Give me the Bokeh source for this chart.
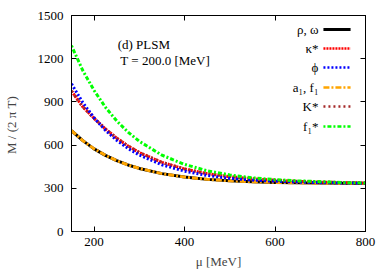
from bokeh.plotting import figure
from bokeh.models import FixedTicker, Label, LinearAxis
from bokeh.embed import file_html
from bokeh.resources import INLINE

mu = [150, 175, 200, 225, 250, 275, 300, 350, 400, 450, 500, 550, 600, 650, 700, 750, 800]
rho_omega = [700, 631, 574, 529, 492, 462, 438, 402, 378, 362, 352, 345, 341, 338, 336, 335, 334]
kappa_star = [975, 866, 786, 712, 648, 594, 548, 480, 434, 402, 381, 366, 356, 348, 343, 340, 337]
phi = [1025, 895, 789, 703, 633, 577, 531, 463, 419, 389, 369, 357, 349, 343, 339, 337, 335]
a1_f1 = [700, 631, 574, 529, 492, 462, 438, 402, 378, 362, 352, 345, 341, 338, 336, 335, 334]
K_star = [975, 866, 786, 712, 648, 594, 548, 480, 434, 402, 381, 366, 356, 348, 343, 340, 337]
f1_star = [1290, 1118, 979, 863, 768, 690, 626, 530, 466, 422, 393, 373, 360, 352, 346, 340, 337]

x_ticks = [200, 400, 600, 800]
y_ticks = [0, 300, 600, 900, 1200, 1500]

FONT = "Liberation Serif"
FS = "13px"

p = figure(width=389, height=273, x_range=(150, 800), y_range=(0, 1500),
           output_backend="svg", toolbar_location=None,
           min_border_left=71, min_border_right=24, min_border_top=15, min_border_bottom=42)
p.background_fill_color = "white"
p.border_fill_color = "white"
p.outline_line_color = "black"
p.outline_line_width = 1
p.xgrid.visible = False
p.ygrid.visible = False

for ax in (p.xaxis[0], p.yaxis[0]):
    ax.major_label_text_font = FONT
    ax.major_label_text_font_size = FS
    ax.axis_label_text_font = FONT
    ax.axis_label_text_font_size = FS
    ax.axis_label_text_font_style = "normal"
    ax.major_tick_in = 5
    ax.major_tick_out = 0
    ax.minor_tick_in = 0
    ax.minor_tick_out = 0
    ax.axis_line_color = "black"
    ax.major_tick_line_color = "black"
    ax.major_label_text_color = "black"

p.xaxis.ticker = FixedTicker(ticks=x_ticks)
p.yaxis.ticker = FixedTicker(ticks=y_ticks)
p.xaxis.axis_label = "μ [MeV]"
p.yaxis.axis_label = "M  / (2 π T)"
p.xaxis.major_label_standoff = 6
p.xaxis.axis_label_standoff = 5
p.yaxis.major_label_standoff = 8
p.yaxis.axis_label_standoff = 16

# mirrored ticks on top and right (no labels)
for loc, ticks in (("above", x_ticks), ("right", y_ticks)):
    ax = LinearAxis(ticker=FixedTicker(ticks=ticks),
                    major_label_overrides={t: "" for t in ticks},
                    major_label_standoff=0, major_tick_in=5, major_tick_out=0,
                    minor_tick_in=0, minor_tick_out=0, axis_line_color="black",
                    major_tick_line_color="black")
    p.add_layout(ax, loc)

series = [
    ("ρ, ω", rho_omega, "black", None),
    ("κ*", kappa_star, "#ff0000", "2 1"),
    ("ϕ", phi, "#0000ff", "2 2"),
    ("a₁, f₁", a1_f1, "#ffa500", "6 2 2 2"),
    ("K*", K_star, "#a52a2a", "2 3"),
    ("f₁*", f1_star, "#00ff00", "2 2 4 2"),
]
draw_order = [0, 3, 1, 4, 2, 5]
for i in draw_order:
    name, ys, col, dash = series[i]
    kw = dict(line_color=col, line_width=3)
    if dash:
        kw["line_dash"] = dash
    p.line(mu, ys, **kw)

# manual legend (label on the left, sample on the right)
leg_text_x = 696
leg_x0, leg_x1 = 707, 767
leg_rows = [1403, 1271, 1139, 1000, 868, 729]
for (name, ys, col, dash), yy in zip(series, leg_rows):
    p.add_layout(Label(x=leg_text_x, y=yy, text=name, text_font=FONT, text_font_size=FS,
                       text_color="black", text_align="right", text_baseline="middle"))
    kw = dict(line_color=col, line_width=3 if dash is None else 2.5)
    if dash:
        kw["line_dash"] = dash
    p.line([leg_x0, leg_x1], [yy, yy], **kw)

p.add_layout(Label(x=252, y=1299, text="(d) PLSM",
                   text_font=FONT, text_font_size=FS, text_color="black",
                   text_baseline="middle"))
p.add_layout(Label(x=258, y=1187, text="T = 200.0 [MeV]",
                   text_font=FONT, text_font_size=FS, text_color="black",
                   text_baseline="middle"))

open("out.html", "w").write(file_html(p, INLINE))
